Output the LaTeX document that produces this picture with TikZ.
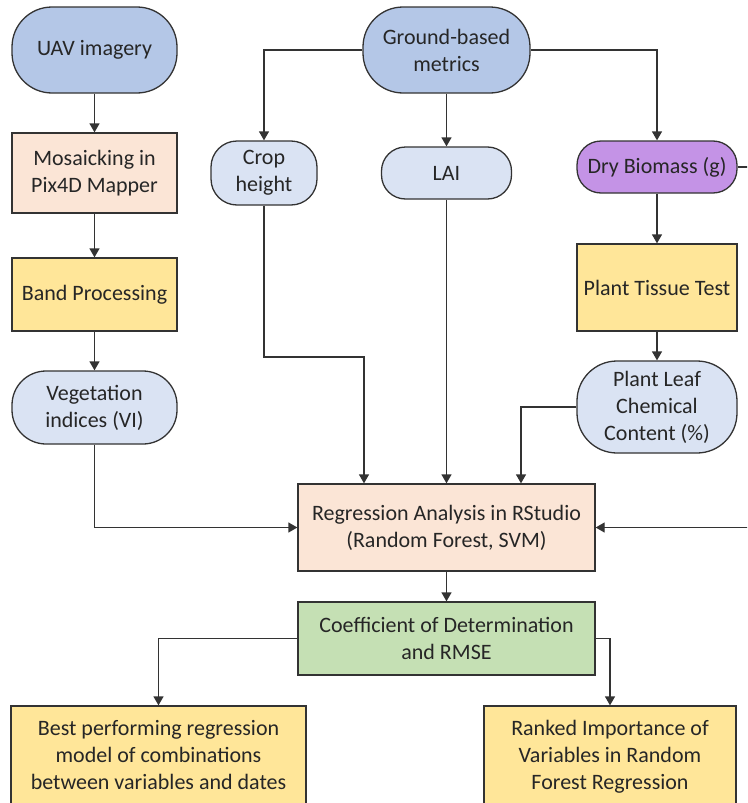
\documentclass[tikz,border=0pt]{standalone}
\usepackage{fontspec}
\setmainfont{Carlito}
\usetikzlibrary{arrows.meta, positioning}
\definecolor{cblue}{HTML}{B4C7E7}
\definecolor{clblue}{HTML}{DAE3F3}
\definecolor{cpeach}{HTML}{FBE5D6}
\definecolor{cyellow}{HTML}{FFE699}
\definecolor{cgreen}{HTML}{C5E0B4}
\definecolor{cpurple}{HTML}{C493E6}
\definecolor{cline}{HTML}{333333}
\definecolor{ctext}{HTML}{262626}
\tikzset{
  every picture/.style={line width=1.3pt},
  box/.style={draw=cline, fill=#1, align=center, inner sep=0pt, text=ctext,
    font=\fontsize{22}{27}\selectfont},
  box/.default=cpeach,
  term/.style={box=#1, rounded corners=24pt},
  term/.default=clblue,
  arrow/.style={-{Triangle[length=9pt, width=10pt]}, draw=cline},
  line/.style={draw=cline},
}

\begin{document}
\begin{tikzpicture}[x=1pt, y=-1pt]
  \clip (0,0) rectangle (747,803);
  % left column: imagery
  \node[term=cblue, rounded corners=40pt, minimum width=165pt, minimum height=86pt] (uav) at (94.5,50) {UAV imagery};
  \node[box, minimum width=165pt, minimum height=80pt] (mosaic) at (94.5,173) {Mosaicking in\\Pix4D Mapper};
  \node[box=cyellow, minimum width=165pt, minimum height=73pt] (band) at (94.5,294.5) {Band Processing};
  \node[term, rounded corners=34pt, minimum width=165pt, minimum height=73pt] (veg) at (94.5,407.5) {Vegetation\\indices (VI)};
  % ground measurements
  \node[term=cblue, rounded corners=40pt, minimum width=167pt, minimum height=86pt] (ground) at (446.5,50) {Ground-based\\metrics};
  \node[term, rounded corners=26pt, minimum width=106pt, minimum height=64pt] (crop) at (264,173) {Crop\\height};
  \node[term, minimum width=130pt, minimum height=52pt] (lai) at (446.5,173) {LAI};
  \node[term=cpurple, minimum width=160pt, minimum height=52pt] (dry) at (657,167) {Dry Biomass (g)};
  \node[box=cyellow, minimum width=160pt, minimum height=87pt] (tissue) at (657,287.5) {Plant Tissue Test};
  \node[term, rounded corners=40pt, minimum width=160pt, minimum height=92pt] (leaf) at (657,407) {Plant Leaf\\Chemical\\Content (\%)};
  % analysis
  \node[box, minimum width=297pt, minimum height=87pt] (reg) at (446.5,527.5) {Regression Analysis in RStudio\\(Random Forest, SVM)};
  \node[box=cgreen, minimum width=297pt, minimum height=73pt] (coef) at (446.5,638.5) {Coefficient of Determination\\and RMSE};
  \node[box=cyellow, minimum width=295pt, minimum height=110pt, text depth=12pt] (best) at (158.5,761) {Best performing regression\\model of combinations\\between variables and dates};
  \node[box=cyellow, minimum width=252pt, minimum height=110pt, text depth=12pt] (rank) at (610,761) {Ranked Importance of\\Variables in Random\\Forest Regression};
  \coordinate (dryOut) at (760,167);
  \coordinate (regIn) at (760,527.5);
  \coordinate (cropBend) at (264,357);

  \draw[arrow] (uav) -- (mosaic);
  \draw[arrow] (mosaic) -- (band);
  \draw[arrow] (band) -- (veg);
  \draw[arrow] (veg.south) |- (reg.west);
  \draw[arrow] (ground.west) -| (crop.north);
  \draw[arrow] (ground) -- (lai);
  \draw[arrow] (ground.east) -| (dry.north);
  \draw[line] (dry.east) -- (dryOut);
  \draw[arrow] (dry) -- (tissue);
  \draw[arrow] (tissue) -- (leaf);
  \draw[arrow] (crop.south) -- (cropBend) -| ([xshift=-82.5pt]reg.north);
  \draw[arrow] (lai) -- (lai.south |- reg.north);
  \draw[arrow] (leaf.west) -| ([xshift=74.5pt]reg.north);
  \draw[arrow] (regIn) -- (reg.east);
  \draw[arrow] (reg) -- (coef);
  \draw[arrow] (coef.west) -| (best.north);
  \draw[arrow] (coef.east) -| (rank.north);
\end{tikzpicture}
\end{document}
